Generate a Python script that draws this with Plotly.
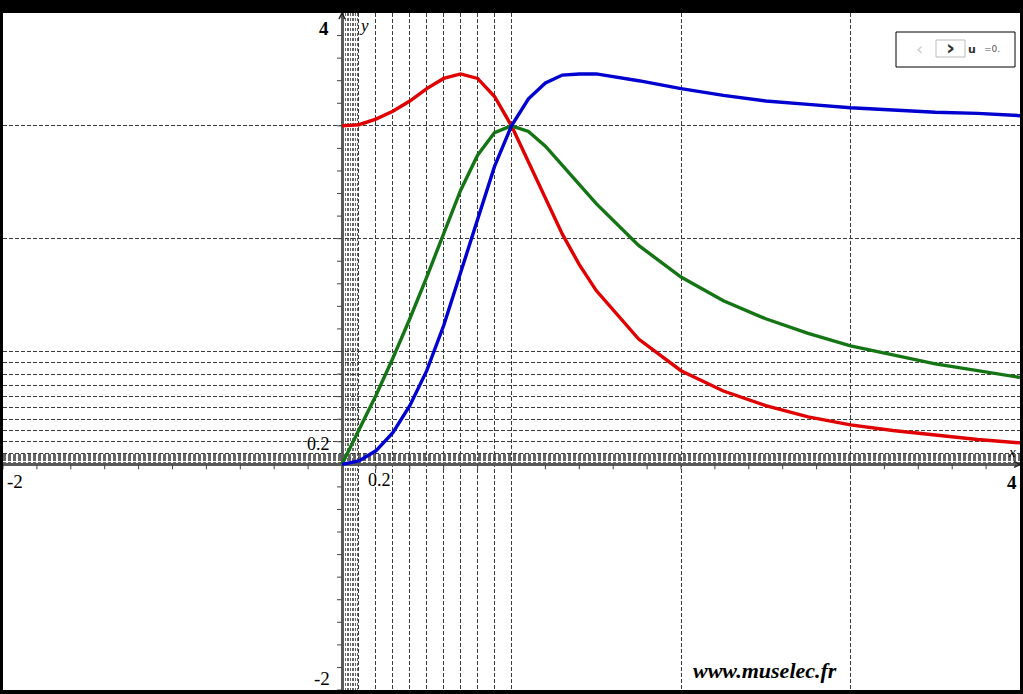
import plotly.graph_objects as go

# ---- data ----
x_vals = [0, 0.1, 0.2, 0.3, 0.4, 0.5, 0.6, 0.7, 0.8, 0.9, 1.0, 1.1, 1.2, 1.3, 1.4, 1.5,
          1.75, 2.0, 2.25, 2.5, 2.75, 3.0, 3.25, 3.5, 3.75, 4.0]
red_vals = [3.0, 3.01, 3.06, 3.13, 3.22, 3.33, 3.42, 3.46, 3.42, 3.26, 3.0, 2.68, 2.35, 2.04,
            1.77, 1.54, 1.11, 0.83, 0.65, 0.52, 0.42, 0.35, 0.30, 0.26, 0.22, 0.19]
green_vals = [0.0, 0.30, 0.61, 0.94, 1.29, 1.66, 2.05, 2.43, 2.74, 2.94, 3.0, 2.95, 2.82, 2.65,
              2.47, 2.31, 1.94, 1.66, 1.45, 1.29, 1.16, 1.05, 0.97, 0.89, 0.83, 0.77]
blue_vals = [0.0, 0.03, 0.12, 0.28, 0.52, 0.83, 1.23, 1.70, 2.19, 2.64, 3.0, 3.24, 3.38, 3.45,
             3.46, 3.46, 3.40, 3.33, 3.27, 3.22, 3.19, 3.16, 3.14, 3.12, 3.11, 3.09]

grid_major = [0.1, 0.2, 0.3, 0.4, 0.5, 0.6, 0.7, 0.8, 0.9, 1, 2, 3]
grid_minor = [0.01, 0.02, 0.03, 0.04, 0.05, 0.06, 0.07, 0.08, 0.09]
tick_x = [-2, -1.8, -1.6, -1.4, -1.2, -1, -0.8, -0.6, -0.4, -0.2, 0.2, 0.4, 0.6, 0.8, 1,
          1.2, 1.4, 1.6, 1.8, 2, 2.2, 2.4, 2.6, 2.8, 3, 3.2, 3.4, 3.6, 3.8]
tick_y = [-2, -1.8, -1.6, -1.4, -1.2, -1, -0.8, -0.6, -0.4, -0.2, 0.2, 0.4, 0.6, 0.8, 1,
          1.2, 1.4, 1.6, 1.8, 2, 2.2, 2.4, 2.6, 2.8, 3, 3.2, 3.4, 3.6, 3.8]

W, H = 1023, 694
L, R, T, B = 3, 3, 13, 4
X0, X1, Y0, Y1 = -2, 4, -2, 4


def px2x(px):
    return X0 + (px - L) / (W - L - R) * (X1 - X0)


def py2y(py):
    return Y1 - (py - T) / (H - T - B) * (Y1 - Y0)


fig = go.Figure()
for vals, col in [(red_vals, "#e00000"), (green_vals, "#157515"), (blue_vals, "#0000d0")]:
    fig.add_trace(go.Scatter(x=x_vals, y=vals, mode="lines",
                             line=dict(color=col, width=3.4), showlegend=False,
                             hoverinfo="skip"))

shapes = []
for t in tick_x:
    shapes.append(dict(type="line", xref="x", yref="y", ysizemode="pixel", yanchor=0,
                       x0=t, x1=t, y0=0, y1=-5, line=dict(color="#444", width=1)))
for t in tick_y:
    shapes.append(dict(type="line", xref="x", yref="y", xsizemode="pixel", xanchor=0,
                       x0=-5, x1=0, y0=t, y1=t, line=dict(color="#444", width=1)))
# axis arrowheads
shapes.append(dict(type="path", xref="x", yref="y", xsizemode="pixel", ysizemode="pixel",
                   xanchor=0, yanchor=4, path="M -3,-6 L 0,0 L 3,-6",
                   line=dict(color="#222", width=1.5)))
shapes.append(dict(type="path", xref="x", yref="y", xsizemode="pixel", ysizemode="pixel",
                   xanchor=4, yanchor=0, path="M -6,3 L 0,0 L -6,-3",
                   line=dict(color="#222", width=1.5)))
# slider widget
shapes.append(dict(type="rect", xref="x", yref="y", x0=px2x(896), x1=px2x(1015),
                   y0=py2y(32), y1=py2y(67), line=dict(color="#000", width=1),
                   fillcolor="white"))
shapes.append(dict(type="rect", xref="x", yref="y", x0=px2x(936), x1=px2x(965),
                   y0=py2y(40), y1=py2y(57), line=dict(color="#bbb", width=1),
                   fillcolor="white"))

serif = "Liberation Serif"
ann = []


def label(txt, px, py, size=17, color="#000", bold=False, italic=False, family=serif):
    t = txt
    if bold:
        t = "<b>" + t + "</b>"
    if italic:
        t = "<i>" + t + "</i>"
    ann.append(dict(x=px2x(px), y=py2y(py), xref="x", yref="y", text=t, showarrow=False,
                    font=dict(family=family, size=size, color=color),
                    xanchor="center", yanchor="middle"))


label("4", 324, 28, 19, bold=True)
label("-2", 322, 678, 19)
label("-2", 15, 481, 19)
label("4", 1012, 482, 19, bold=True)
label("0.2", 318, 444, 18)
label("0.2", 379, 480, 18)
label("y", 364, 25, 17, italic=True)
label("x", 1012, 452, 15, italic=True)
label("www.muselec.fr", 765, 670, 22, bold=True, italic=True)
label("‹", 919, 48, 18, color="#ccc", family="DejaVu Sans")
label("›", 950, 47, 22, color="#333", bold=True, family="DejaVu Sans")
label("u", 972, 49, 11, color="#333", bold=True, family="DejaVu Sans")
label("=0.", 992, 49, 9, color="#555", family="DejaVu Sans")

axis_common = dict(showticklabels=False, ticks="", showgrid=True, gridcolor="#3a3a3a",
                   gridwidth=1, griddash="4px,2px", zeroline=True, zerolinecolor="#5a5a5a",
                   zerolinewidth=2.5, showline=False, fixedrange=True,
                   tickmode="array", tickvals=grid_major,
                   minor=dict(tickmode="array", tickvals=grid_minor, showgrid=True,
                              gridcolor="#666666", gridwidth=1, griddash="3px,2px",
                              ticks=""))

fig.update_layout(
    width=W, height=H,
    margin=dict(l=L, r=R, t=T, b=B, pad=0),
    paper_bgcolor="black", plot_bgcolor="white",
    xaxis=dict(range=[X0, X1], **axis_common),
    yaxis=dict(range=[Y0, Y1], **axis_common),
    shapes=shapes, annotations=ann, showlegend=False,
)
fig.write_html("out.html", config={"displayModeBar": False},
               post_script="document.body.style.margin='0';document.body.style.overflow='hidden';")
